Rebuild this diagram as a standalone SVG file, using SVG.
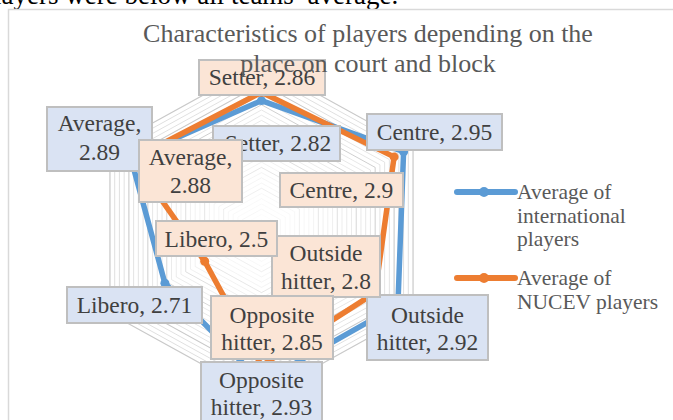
<svg xmlns="http://www.w3.org/2000/svg" xmlns:xlink="http://www.w3.org/1999/xlink" width="673" height="420" viewBox="0 0 673 420">
<style>
.lbl{font-family:"Liberation Serif","Times New Roman",serif;font-size:23.5px;fill:#404040;text-anchor:middle}
.leg{font-family:"Liberation Serif","Times New Roman",serif;font-size:21.5px;fill:#595959}
.ttl{font-family:"Liberation Serif","Times New Roman",serif;font-size:26px;fill:#595959;text-anchor:middle}
.bb{fill:#dae3f3;stroke:#bfbfbf;stroke-width:2}
.ob{fill:#fbe5d6;stroke:#bfbfbf;stroke-width:2}
.ring{fill:none;stroke:#dedede;stroke-width:1;vector-effect:non-scaling-stroke}
.ring2{fill:none;stroke:#c9c9c9;stroke-width:1.2;vector-effect:non-scaling-stroke}
.sb{fill:none;stroke:#5b9bd5;stroke-width:5.5;stroke-linejoin:round}
.so{fill:none;stroke:#ed7d31;stroke-width:5.5;stroke-linejoin:round}
.mb{fill:#5b9bd5}
.mo{fill:#ed7d31}
</style>
<defs>
<polygon id="hex" points="0,-167 151.55,-83.5 151.55,83.5 0,167 -151.55,83.5 -151.55,-83.5"/>
</defs>
<rect width="673" height="420" fill="#ffffff"/>
<text x="-6" y="4" font-family="Liberation Serif, serif" font-size="27" fill="#000000">layers were below all teams’ average.</text>
<rect x="8.5" y="9.5" width="700" height="430" fill="none" stroke="#d9d9d9" stroke-width="1.5"/>
<g id="grid" transform="translate(261.5,230)">
<use href="#hex" class="ring2" transform="scale(1)"/>
<use href="#hex" class="ring" transform="scale(0.96875)"/>
<use href="#hex" class="ring" transform="scale(0.9375)"/>
<use href="#hex" class="ring" transform="scale(0.90625)"/>
<use href="#hex" class="ring2" transform="scale(0.875)"/>
<use href="#hex" class="ring" transform="scale(0.84375)"/>
<use href="#hex" class="ring" transform="scale(0.8125)"/>
<use href="#hex" class="ring" transform="scale(0.78125)"/>
<use href="#hex" class="ring2" transform="scale(0.75)"/>
<use href="#hex" class="ring" transform="scale(0.71875)"/>
<use href="#hex" class="ring" transform="scale(0.6875)"/>
<use href="#hex" class="ring" transform="scale(0.65625)"/>
<use href="#hex" class="ring2" transform="scale(0.625)"/>
<use href="#hex" class="ring" transform="scale(0.59375)"/>
<use href="#hex" class="ring" transform="scale(0.5625)"/>
<use href="#hex" class="ring" transform="scale(0.53125)"/>
<use href="#hex" class="ring2" transform="scale(0.5)"/>
<use href="#hex" class="ring" transform="scale(0.46875)"/>
<use href="#hex" class="ring" transform="scale(0.4375)"/>
<use href="#hex" class="ring" transform="scale(0.40625)"/>
<use href="#hex" class="ring2" transform="scale(0.375)"/>
<use href="#hex" class="ring" transform="scale(0.34375)"/>
<use href="#hex" class="ring" transform="scale(0.3125)"/>
<use href="#hex" class="ring" transform="scale(0.28125)"/>
<use href="#hex" class="ring2" transform="scale(0.25)"/>
<use href="#hex" class="ring" transform="scale(0.21875)"/>
<use href="#hex" class="ring" transform="scale(0.1875)"/>
<use href="#hex" class="ring" transform="scale(0.15625)"/>
<use href="#hex" class="ring2" transform="scale(0.125)"/>
<use href="#hex" class="ring" transform="scale(0.09375)"/>
<use href="#hex" class="ring" transform="scale(0.0625)"/>
</g>
<g id="connectors">
<g id="series-international">
<polygon class="sb" points="261.5,100.6 403.6,151.7 397.9,305.2 261.5,382.4 164.9,283.2 130.8,158"/>
<circle class="mb" cx="261.5" cy="100.6" r="4.5"/>
<circle class="mb" cx="403.6" cy="151.7" r="4.5"/>
<circle class="mb" cx="397.9" cy="305.2" r="4.5"/>
<circle class="mb" cx="261.5" cy="382.4" r="4.5"/>
<circle class="mb" cx="164.9" cy="283.2" r="4.5"/>
<circle class="mb" cx="130.8" cy="158" r="4.5"/>
</g>
<g id="series-nucev">
<polygon class="so" points="261.5,92.2 394.1,156.9 375.2,292.6 261.5,365.7 204.7,261.3 132.7,159"/>
<circle class="mo" cx="261.5" cy="92.2" r="4.5"/>
<circle class="mo" cx="394.1" cy="156.9" r="4.5"/>
<circle class="mo" cx="375.2" cy="292.6" r="4.5"/>
<circle class="mo" cx="261.5" cy="365.7" r="4.5"/>
<circle class="mo" cx="204.7" cy="261.3" r="4.5"/>
<circle class="mo" cx="132.7" cy="159" r="4.5"/>
</g>
</g>
<g id="label-int-setter"><rect class="bb" x="213" y="126" width="127" height="35"/><text class="lbl" x="278" y="151">Setter, 2.82</text></g>
<g id="label-int-centre"><rect class="bb" x="367" y="114" width="135" height="36"/><text class="lbl" x="434.5" y="139.5">Centre, 2.95</text></g>
<g id="label-int-outside"><rect class="bb" x="367" y="295" width="121" height="65"/><text class="lbl" x="427.5" y="323">Outside</text><text class="lbl" x="427.5" y="350">hitter, 2.92</text></g>
<g id="label-int-opposite"><rect class="bb" x="201" y="362" width="121" height="65"/><text class="lbl" x="261.5" y="388">Opposite</text><text class="lbl" x="261.5" y="415">hitter, 2.93</text></g>
<g id="label-int-libero"><rect class="bb" x="67" y="287" width="135" height="36"/><text class="lbl" x="134.5" y="313">Libero, 2.71</text></g>
<g id="label-int-average"><rect class="bb" x="47" y="107" width="105" height="64"/><text class="lbl" x="99.5" y="131">Average,</text><text class="lbl" x="99.5" y="160">2.89</text></g>
<g id="label-nuc-setter"><rect class="ob" x="199" y="60" width="126" height="35"/><text class="lbl" x="262" y="85">Setter, 2.86</text></g>
<g id="label-nuc-centre"><rect class="ob" x="280" y="173" width="123" height="34"/><text class="lbl" x="341.5" y="198">Centre, 2.9</text></g>
<g id="label-nuc-outside"><rect class="ob" x="272" y="236" width="108" height="61"/><text class="lbl" x="326" y="261">Outside</text><text class="lbl" x="326" y="289">hitter, 2.8</text></g>
<g id="label-nuc-opposite"><rect class="ob" x="211" y="296" width="122" height="63"/><text class="lbl" x="272" y="323">Opposite</text><text class="lbl" x="272" y="350">hitter, 2.85</text></g>
<g id="label-nuc-libero"><rect class="ob" x="156" y="221" width="121" height="35"/><text class="lbl" x="216.5" y="247">Libero, 2.5</text></g>
<g id="label-nuc-average"><rect class="ob" x="139" y="140" width="103" height="62"/><text class="lbl" x="190.5" y="165">Average,</text><text class="lbl" x="190.5" y="193">2.88</text></g>
<g id="legend">
<g id="legend-int"><line x1="457" y1="192" x2="515" y2="192" stroke="#5b9bd5" stroke-width="6" stroke-linecap="round"/><circle class="mb" cx="484" cy="192" r="5"/><text class="leg" x="517" y="199">Average of</text><text class="leg" x="517" y="222.5">international</text><text class="leg" x="517" y="246">players</text></g>
<g id="legend-nuc"><line x1="457" y1="278" x2="515" y2="278" stroke="#ed7d31" stroke-width="6" stroke-linecap="round"/><circle class="mo" cx="484" cy="278" r="5"/><text class="leg" x="517" y="285">Average of</text><text class="leg" x="517" y="309">NUCEV players</text></g>
</g>
<g id="title">
<text class="ttl" x="368" y="42">Characteristics of players  depending  on the</text>
<text class="ttl" x="368" y="72">place on court and block</text>
</g>
</svg>
